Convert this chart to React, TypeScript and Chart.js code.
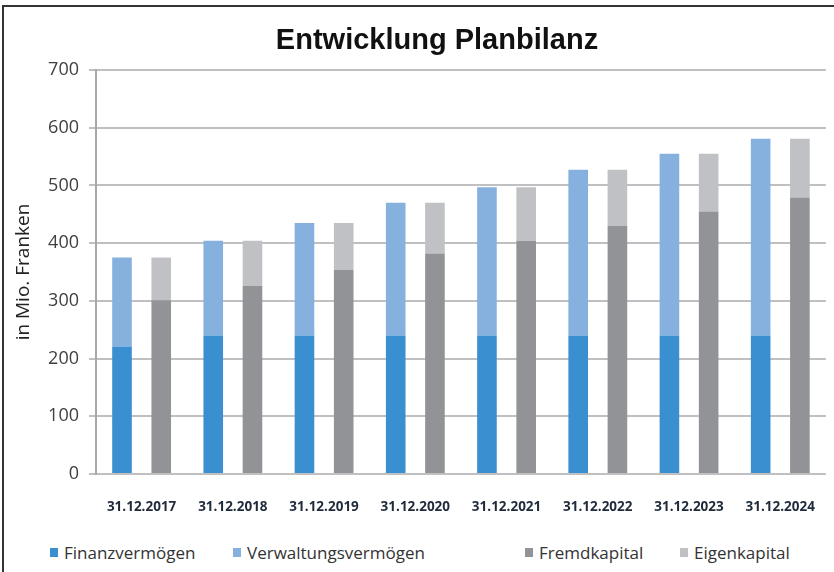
import React, { useEffect, useRef } from "react";
import { Chart, registerables } from "chart.js";

Chart.register(...registerables);

const categories = ["31.12.2017", "31.12.2018", "31.12.2019", "31.12.2020", "31.12.2021", "31.12.2022", "31.12.2023", "31.12.2024"];
const finanzvermoegen = [220, 240, 240, 240, 240, 240, 240, 240];
const verwaltungsvermoegen = [155, 164, 195, 230, 257, 287, 315, 341];
const fremdkapital = [301, 326, 354, 382, 404, 430, 455, 479];
const eigenkapital = [74, 78, 81, 88, 93, 97, 100, 102];
const yTicks = [0, 100, 200, 300, 400, 500, 600, 700];

const colors = {
  finanz: "#3a8fd1",
  verwaltung: "#86b1de",
  fremd: "#929396",
  eigen: "#c0c1c4",
};

const legendItems = [
  { label: "Finanzvermögen", color: colors.finanz, left: 50 },
  { label: "Verwaltungsvermögen", color: colors.verwaltung, left: 233 },
  { label: "Fremdkapital", color: colors.fremd, left: 525 },
  { label: "Eigenkapital", color: colors.eigen, left: 680 },
];

export default function App() {
  const ref = useRef<HTMLCanvasElement | null>(null);

  useEffect(() => {
    if (!ref.current) return;
    const chart = new Chart(ref.current, {
      type: "bar",
      data: {
        labels: categories,
        datasets: [
          { label: "Finanzvermögen", data: finanzvermoegen, backgroundColor: colors.finanz, stack: "aktiv" },
          { label: "Verwaltungsvermögen", data: verwaltungsvermoegen, backgroundColor: colors.verwaltung, stack: "aktiv" },
          { label: "Fremdkapital", data: fremdkapital, backgroundColor: colors.fremd, stack: "passiv" },
          { label: "Eigenkapital", data: eigenkapital, backgroundColor: colors.eigen, stack: "passiv" },
        ],
      },
      options: {
        animation: false,
        responsive: false,
        maintainAspectRatio: false,
        layout: { padding: { left: 34, right: 0, top: 0, bottom: 0 } },
        datasets: { bar: { categoryPercentage: 0.86, barPercentage: 0.5 } },
        plugins: {
          legend: { display: false },
          tooltip: { enabled: false },
          title: {
            display: true,
            text: "Entwicklung Planbilanz",
            color: "#111",
            font: { family: "'Liberation Sans', Arial, sans-serif", size: 29, weight: "bold", lineHeight: 1.2 },
            padding: { top: 24, bottom: 11.2 },
          },
        },
        scales: {
          x: {
            stacked: true,
            grid: { display: false, drawTicks: false },
            border: { display: false },
            ticks: {
              color: "#1f2a3a",
              padding: 25,
              maxRotation: 0,
              font: { family: "'Open Sans', sans-serif", size: 13.5, weight: "bold" },
            },
            afterFit: (s: any) => { s.height = 56; },
          },
          y: {
            stacked: true,
            min: 0,
            max: 700,
            afterBuildTicks: (s: any) => { s.ticks = yTicks.map((v) => ({ value: v })); },
            grid: { color: "#c0c0c3", lineWidth: 2, tickLength: 7, drawTicks: true },
            border: { display: true, color: "#a8a8ab", width: 2 },
            ticks: {
              color: "#404040",
              padding: 10,
              font: { family: "'Open Sans', sans-serif", size: 18 },
            },
            title: {
              display: true,
              text: "in Mio. Franken",
              color: "#222",
              padding: { top: -22, bottom: 4 },
              font: { family: "'Open Sans', sans-serif", size: 19 },
            },
            afterFit: (s: any) => { s.width = 62; },
          },
        },
      },
    });
    return () => chart.destroy();
  }, []);

  return (
    <div style={{ position: "fixed", left: 0, top: 0, width: 834, height: 572, overflow: "hidden", background: "#fff" }}>
      <div style={{ position: "absolute", left: 2, top: 5, width: 900, height: 600, borderLeft: "2px solid #333", borderTop: "2px solid #333", boxSizing: "border-box" }} />
      <canvas ref={ref} width={840} height={530} style={{ position: "absolute", left: 0, top: 0, width: 840, height: 530 }} />
      {legendItems.map((it) => (
        <div key={it.label} style={{ position: "absolute", left: it.left, top: 540, height: 24, display: "flex", alignItems: "center", fontFamily: "'Open Sans', sans-serif", fontSize: 17, color: "#333", whiteSpace: "nowrap" }}>
          <span style={{ display: "inline-block", width: 8, height: 9, background: it.color, marginRight: 6 }} />
          {it.label}
        </div>
      ))}
    </div>
  );
}
